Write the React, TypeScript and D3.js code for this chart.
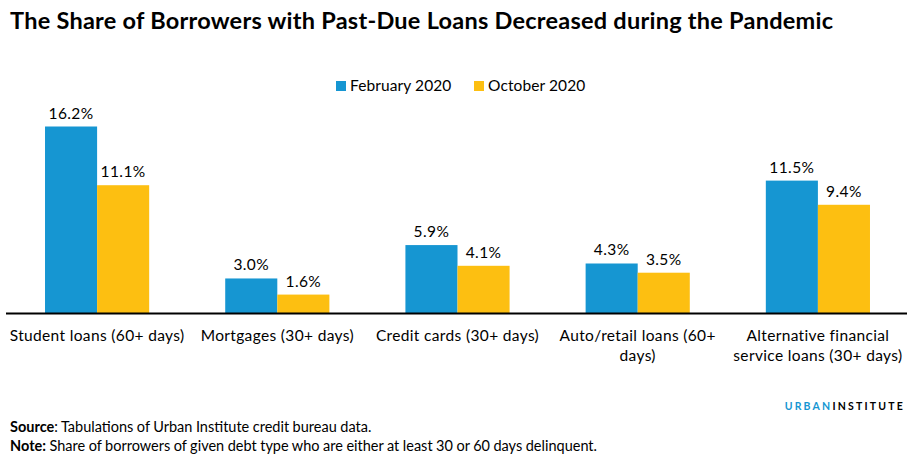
import React, { useRef, useEffect } from 'react';
import * as d3 from 'd3';

const categories = [
  'Student loans (60+ days)',
  'Mortgages (30+ days)',
  'Credit cards (30+ days)',
  'Auto/retail loans (60+ days)',
  'Alternative financial service loans (30+ days)',
];
const tickLines = [
  ['Student loans (60+ days)'],
  ['Mortgages (30+ days)'],
  ['Credit cards (30+ days)'],
  ['Auto/retail loans (60+', 'days)'],
  ['Alternative financial', 'service loans (30+ days)'],
];
const seriesNames = ['February 2020', 'October 2020'];
const february = [16.2, 3.0, 5.9, 4.3, 11.5];
const october = [11.1, 1.6, 4.1, 3.5, 9.4];

const BLUE = '#1696d2';
const YELLOW = '#fdbf11';
const FONT = 'Lato, "Noto Sans", sans-serif';

export default function App() {
  const svgRef = useRef<SVGSVGElement | null>(null);

  useEffect(() => {
    if (!svgRef.current) return;
    const svg = d3.select(svgRef.current);
    svg.selectAll('*').remove();

    const width = 914;
    const height = 461;
    const baseline = 313;

    const x = d3.scaleBand().domain(categories).range([7, 908]).padding(0);
    const xInner = d3.scaleBand().domain(seriesNames).range([0, x.bandwidth()]).paddingInner(0).paddingOuter(0.73);
    const y = d3.scaleLinear().domain([0, 16.2]).range([baseline, 126.5]);

    const colors = [BLUE, YELLOW];
    const values = [february, october];

    // title
    svg.append('text')
      .attr('x', 10).attr('y', 29)
      .attr('font-family', FONT).attr('font-weight', 'bold').attr('font-size', 23.5)
      .attr('letter-spacing', 0.25)
      .attr('fill', '#000')
      .text('The Share of Borrowers with Past-Due Loans Decreased during the Pandemic');

    // legend
    const legend = svg.append('g').attr('font-family', FONT).attr('font-size', 15.5).attr('letter-spacing', 0.1);
    const legendX = [336, 474];
    seriesNames.forEach((name, i) => {
      legend.append('rect').attr('x', legendX[i]).attr('y', 81).attr('width', 10).attr('height', 10).attr('fill', colors[i]);
      legend.append('text').attr('x', legendX[i] + 14).attr('y', 91).attr('fill', '#000').text(name);
    });

    // bars
    seriesNames.forEach((name, si) => {
      const g = svg.append('g');
      g.selectAll('rect')
        .data(categories)
        .enter()
        .append('rect')
        .attr('x', (c) => (x(c) || 0) + (xInner(name) || 0))
        .attr('width', xInner.bandwidth())
        .attr('y', (c, i) => y(values[si][i]))
        .attr('height', (c, i) => baseline - y(values[si][i]))
        .attr('fill', colors[si]);

      g.selectAll('text')
        .data(categories)
        .enter()
        .append('text')
        .attr('x', (c) => (x(c) || 0) + (xInner(name) || 0) + xInner.bandwidth() / 2)
        .attr('y', (c, i) => y(values[si][i]) - 8)
        .attr('text-anchor', 'middle')
        .attr('font-family', FONT)
        .attr('font-size', 15.5)
        .attr('letter-spacing', 0.4)
        .attr('fill', '#000')
        .text((c, i) => `${values[si][i].toFixed(1)}%`);
    });

    // axis line
    svg.append('line')
      .attr('x1', 6).attr('x2', 907)
      .attr('y1', baseline + 0.5).attr('y2', baseline + 0.5)
      .attr('stroke', '#000').attr('stroke-width', 2);

    // category labels
    categories.forEach((c, i) => {
      const t = svg.append('text')
        .attr('text-anchor', 'middle')
        .attr('font-family', FONT)
        .attr('font-size', 15.5)
        .attr('letter-spacing', 0.35)
        .attr('fill', '#000');
      tickLines[i].forEach((line, li) => {
        t.append('tspan')
          .attr('x', (x(c) || 0) + x.bandwidth() / 2)
          .attr('y', 341 + li * 19.5)
          .text(line);
      });
    });

    // branding
    const brand = svg.append('text')
      .attr('x', 905).attr('y', 410)
      .attr('text-anchor', 'end')
      .attr('font-family', FONT).attr('font-weight', 'bold').attr('font-size', 10.5)
      .attr('letter-spacing', 2.2);
    brand.append('tspan').attr('fill', BLUE).text('URBAN');
    brand.append('tspan').attr('fill', '#000').text('INSTITUTE');

    // footer notes
    const foot = svg.append('g').attr('font-family', FONT).attr('font-size', 14.5).attr('fill', '#000');
    const s = foot.append('text').attr('x', 10).attr('y', 432).attr('word-spacing', -0.2);
    s.append('tspan').attr('font-weight', 'bold').text('Source');
    s.append('tspan').text(': Tabulations of Urban Institute credit bureau data.');
    const n = foot.append('text').attr('x', 10).attr('y', 451).attr('word-spacing', -0.2);
    n.append('tspan').attr('font-weight', 'bold').text('Note:');
    n.append('tspan').text(' Share of borrowers of given debt type who are either at least 30 or 60 days delinquent.');

    svg.attr('width', width).attr('height', height);
  }, []);

  return (
    <svg
      ref={svgRef}
      style={{ position: 'absolute', left: 0, top: 0, background: '#fff', display: 'block' }}
      width={914}
      height={461}
    />
  );
}
